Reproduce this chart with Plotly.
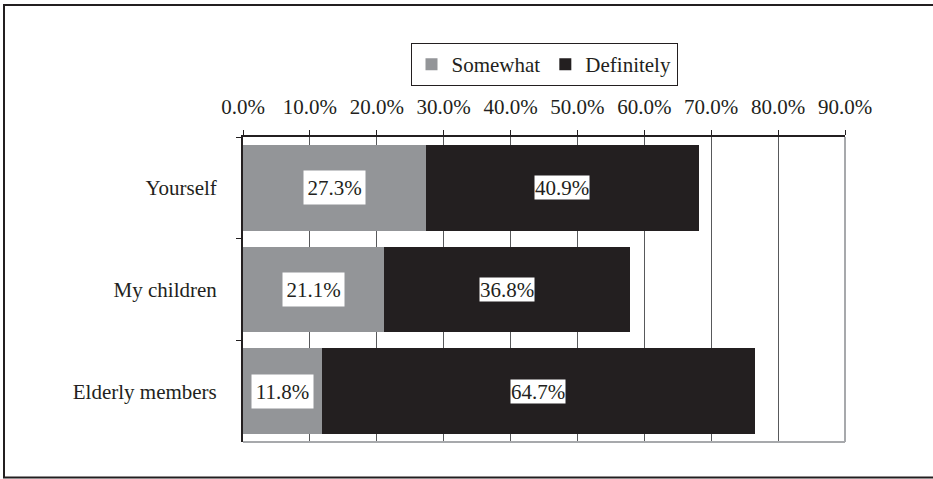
import plotly.graph_objects as go

categories = ["Yourself", "My children", "Elderly members"]
somewhat = [27.3, 21.1, 11.8]
definitely = [40.9, 36.8, 64.7]
tick_vals = [0, 10, 20, 30, 40, 50, 60, 70, 80, 90]
tick_text = ["0.0%", "10.0%", "20.0%", "30.0%", "40.0%", "50.0%", "60.0%", "70.0%", "80.0%", "90.0%"]

FONT = "Liberation Serif"
FS = 21
GRAY = "#939598"
BLACK = "#231f20"

fig = go.Figure()
fig.add_trace(go.Bar(y=categories, x=somewhat, name="Somewhat", orientation="h",
                     marker=dict(color=GRAY, line=dict(width=0))))
fig.add_trace(go.Bar(y=categories, x=definitely, name="Definitely", orientation="h",
                     marker=dict(color=BLACK, line=dict(width=0))))

annotations = []
for c, s, d in zip(categories, somewhat, definitely):
    annotations.append(dict(x=s / 2, y=c, xref="x", yref="y", text=f"{s:.1f}%", showarrow=False,
                            bgcolor="white", font=dict(family=FONT, size=FS, color=BLACK),
                            width=61, height=33, borderpad=0))
    annotations.append(dict(x=s + d / 2, y=c, xref="x", yref="y", text=f"{d:.1f}%", showarrow=False,
                            bgcolor="white", font=dict(family=FONT, size=FS, color=BLACK),
                            height=23, borderpad=0))

L, R, T, B = 243, 88, 137, 37
W, H = 933, 479
pw, ph = W - L - R, H - T - B

def px_x(p):
    return (p - L) / pw

def px_y(p):
    return 1 - (p - T) / ph

shapes = [
    # outer figure border
    dict(type="rect", xref="paper", yref="paper", x0=px_x(4), x1=px_x(950), y0=px_y(477.5), y1=px_y(5),
         line=dict(color=BLACK, width=2), fillcolor="rgba(0,0,0,0)", layer="below"),
    # plot-area right and bottom borders (light gray)
    dict(type="line", xref="paper", yref="paper", x0=1, x1=1, y0=0, y1=1,
         line=dict(color="#a7a9ac", width=2)),
    dict(type="line", xref="paper", yref="paper", x0=0, x1=1, y0=0, y1=0,
         line=dict(color="#a7a9ac", width=2)),
]

fig.update_layout(
    width=W, height=H,
    margin=dict(l=L, r=R, t=T, b=B),
    paper_bgcolor="white", plot_bgcolor="white",
    barmode="stack", bargap=0.16,
    font=dict(family=FONT, size=FS, color=BLACK),
    showlegend=True,
    legend=dict(orientation="h", x=px_x(544), xanchor="center", y=px_y(43), yanchor="top",
                bordercolor=BLACK, borderwidth=1, bgcolor="white",
                font=dict(family=FONT, size=FS, color=BLACK), traceorder="normal",
                itemwidth=30, tracegroupgap=0),
    xaxis=dict(side="top", range=[0, 90], tickvals=tick_vals, ticktext=tick_text,
               showgrid=True, gridcolor="#58595b", gridwidth=1,
               showline=True, linecolor=BLACK, linewidth=2,
               ticks="outside", ticklen=5, tickcolor=BLACK, tickwidth=1,
               ticklabelstandoff=8,
               zeroline=False, fixedrange=True),
    yaxis=dict(categoryorder="array", categoryarray=categories, autorange="reversed",
               showline=True, linecolor=BLACK, linewidth=2,
               ticks="outside", ticklen=5, tickcolor=BLACK, tickwidth=1,
               tickson="boundaries", ticklabelstandoff=20, showgrid=False, fixedrange=True),
    annotations=annotations,
    shapes=shapes,
)

fig.write_html("out.html")
